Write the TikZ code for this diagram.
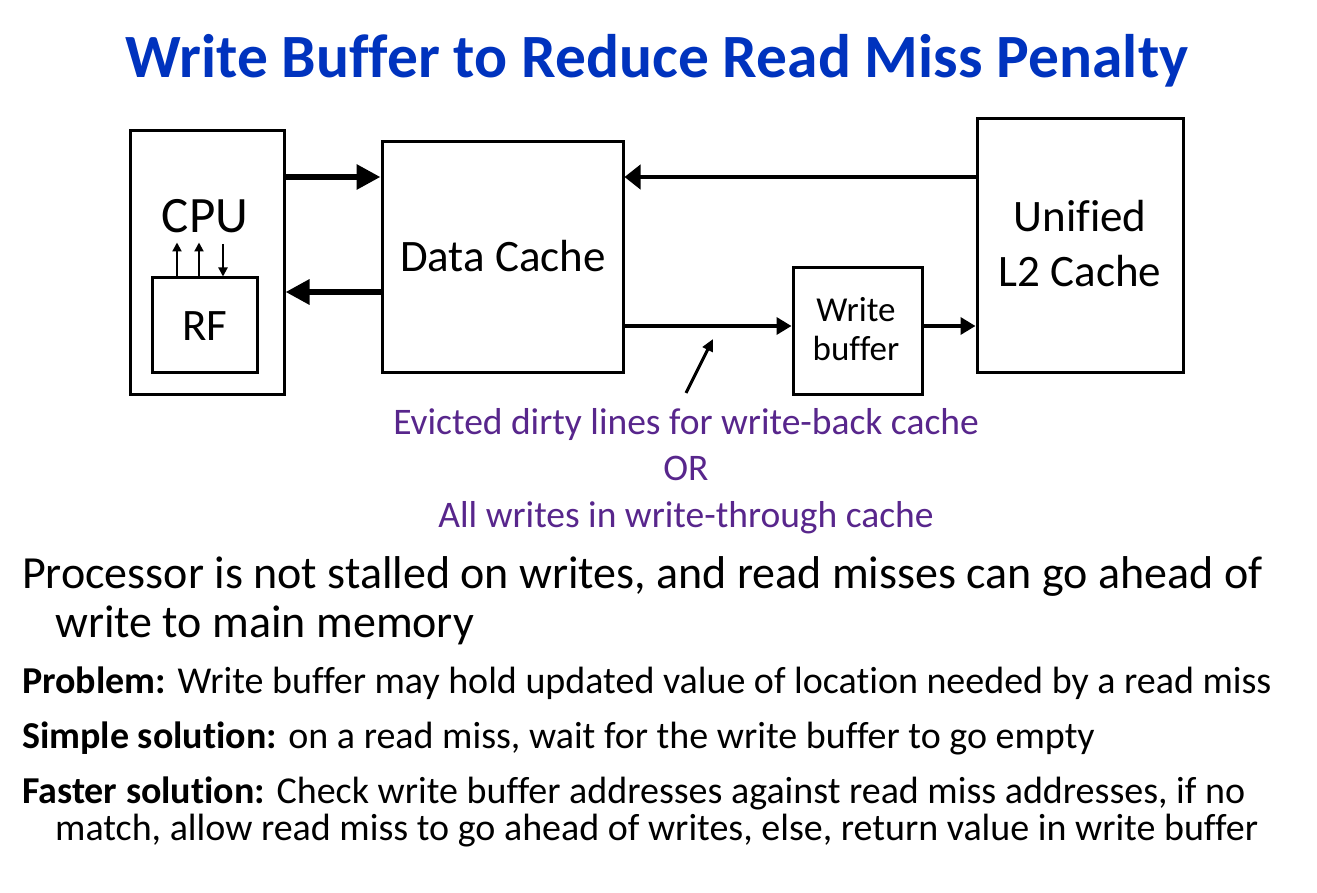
\documentclass[tikz,border=0pt]{standalone}
\usepackage{fontspec}
\setmainfont{Carlito}[Ligatures=NoCommon]
\usetikzlibrary{arrows.meta}
\definecolor{titleblue}{RGB}{0,51,190}
\definecolor{notepurple}{RGB}{88,38,140}
\newcommand{\fsz}[1]{\fontsize{#1}{#1}\selectfont}
\begin{document}
\begin{tikzpicture}[x=1pt,y=-1pt,
  box/.style={draw,line width=3pt,inner sep=0pt},
  lbl/.style={anchor=base,inner sep=0pt},
  body/.style={anchor=base west,inner sep=0pt,font=\fsz{38}},
  thickarr/.style={line width=6pt,-{Triangle[length=24pt,width=24pt]}},
  medarr/.style={line width=4.5pt,-{Triangle[length=16pt,width=24pt]}},
  thinarr/.style={line width=3.5pt,-{Triangle[length=15pt,width=17pt]}},
  smallarr/.style={line width=2pt,-{Triangle[length=9pt,width=9pt]}},
  ptrarr/.style={line width=3pt,-{Triangle[length=12pt,width=11pt]}}]
\useasboundingbox[fill=white] (0,0) rectangle (1317,893);
% title
\node[lbl,font=\fsz{61.5}\bfseries,text=titleblue] (title) at (657,78) {Write Buffer to Reduce Read Miss Penalty};
% boxes
\node[box,minimum width=154pt,minimum height=263pt] (cpu) at (207,262.5) {};
\node[box,minimum width=105pt,minimum height=94pt] (rf) at (204.5,325) {};
\node[box,minimum width=241pt,minimum height=230pt] (dc) at (502.5,257) {};
\node[box,minimum width=129pt,minimum height=126pt] (wb) at (857.5,331) {};
\node[box,minimum width=206pt,minimum height=253pt] (l2) at (1080,245.5) {};
% box texts
\node[lbl,font=\fsz{51}] (cputxt) at (205,233) {CPU};
\node[lbl,font=\fsz{45}] (rftxt) at (205,340) {RF};
\node[lbl,font=\fsz{45}] (dctxt) at (503,272) {Data Cache};
\node[lbl,font=\fsz{45}] (l2txta) at (1080,232) {Unified};
\node[lbl,font=\fsz{45}] (l2txtb) at (1080,287) {L2 Cache};
\node[lbl,font=\fsz{35}] (wbtxta) at (856,322) {Write};
\node[lbl,font=\fsz{35}] (wbtxtb) at (856,360) {buffer};
% connectors
\coordinate (ytop) at (0,177);
\coordinate (ymid) at (0,292);
\coordinate (ywb) at (0,326);
\draw[thickarr] (cpu.east |- ytop) -- (dc.west |- ytop);
\draw[thickarr] (dc.west |- ymid) -- (cpu.east |- ymid);
\draw[medarr] (l2.west |- ytop) -- (dc.east |- ytop);
\draw[thinarr] (dc.east |- ywb) -- (wb.west |- ywb);
\draw[thinarr] (wb.east |- ywb) -- (l2.west |- ywb);
\draw[smallarr] ([xshift=-27.5pt]rf.north) -- ++(0,-34);
\draw[smallarr] ([xshift=-5.5pt]rf.north) -- ++(0,-34);
\coordinate (rfin) at (223,244);
\draw[smallarr] (rfin) -- (rf.north -| rfin);
\coordinate (ptail) at (686,393);
\coordinate (phead) at (713,339);
\draw[ptrarr] (ptail) -- (phead);
% purple note
\node[lbl,font=\fsz{37.5},text=notepurple] (note1) at (686,434) {Evicted dirty lines for write-back cache};
\node[lbl,font=\fsz{37.5},text=notepurple] (note2) at (686,480) {OR};
\node[lbl,font=\fsz{37.5},text=notepurple] (note3) at (686,527) {All writes in write-through cache};
% body text
\node[body,font=\fsz{46}] (b1) at (22,588) {Processor is not stalled on writes, and read misses can go ahead of};
\node[body,font=\fsz{46}] (b2) at (55,637) {write to main memory};
\node[body] (b3) at (22,693) {\textbf{Problem:} Write buffer may hold updated value of location needed by a read miss};
\node[body] (b4) at (22,748) {\textbf{Simple solution:} on a read miss, wait for the write buffer to go empty};
\node[body] (b5) at (22,803) {\textbf{Faster solution:} Check write buffer addresses against read miss addresses, if no};
\node[body] (b6) at (55,840) {match, allow read miss to go ahead of writes, else, return value in write buffer};
\end{tikzpicture}
\end{document}
